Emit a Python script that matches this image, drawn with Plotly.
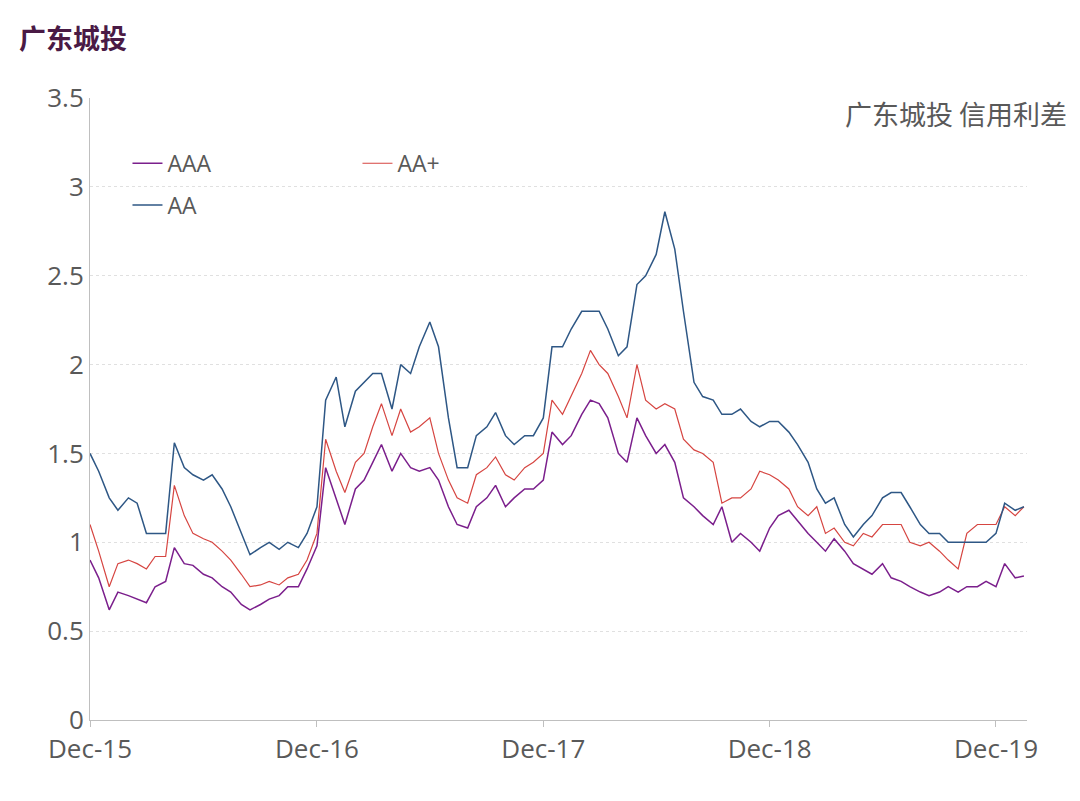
import pandas as pd
import plotly.graph_objects as go

# semi-monthly observations, 2015-12-01 .. 2020-01-15
dates = [d for m in pd.date_range("2015-12-01", "2020-01-01", freq="MS")
         for d in (m, m + pd.Timedelta(days=14))]

aaa = [0.9, 0.8,
       0.62, 0.72, 0.7, 0.68, 0.66, 0.75, 0.78, 0.97, 0.88, 0.87, 0.82, 0.8,
       0.75, 0.72, 0.65, 0.62, 0.65, 0.68, 0.7, 0.75, 0.75, 0.85, 0.98, 1.42,
       1.25, 1.1, 1.3, 1.35, 1.45, 1.55, 1.4, 1.5, 1.42, 1.4, 1.42, 1.35,
       1.2, 1.1, 1.08, 1.2, 1.25, 1.32, 1.2, 1.25, 1.3, 1.3, 1.35, 1.62,
       1.55, 1.6, 1.72, 1.8, 1.78, 1.7, 1.5, 1.45, 1.7, 1.6, 1.5, 1.55,
       1.45, 1.25, 1.2, 1.15, 1.1, 1.2, 1.0, 1.05, 1.0, 0.95, 1.08, 1.15,
       1.18, 1.12, 1.05, 1.0, 0.95, 1.02, 0.95, 0.88, 0.85, 0.82, 0.88, 0.8,
       0.78, 0.75, 0.72, 0.7, 0.72, 0.75, 0.72, 0.75, 0.75, 0.78, 0.75, 0.88,
       0.8, 0.81]

aa_plus = [1.1, 0.95,
           0.75, 0.88, 0.9, 0.88, 0.85, 0.92, 0.92, 1.32, 1.15, 1.05, 1.02, 1.0,
           0.95, 0.9, 0.82, 0.75, 0.76, 0.78, 0.76, 0.8, 0.82, 0.9, 1.05, 1.58,
           1.4, 1.28, 1.45, 1.5, 1.65, 1.78, 1.6, 1.75, 1.62, 1.65, 1.7, 1.5,
           1.35, 1.25, 1.22, 1.38, 1.42, 1.48, 1.38, 1.35, 1.42, 1.45, 1.5, 1.8,
           1.72, 1.82, 1.95, 2.08, 2.0, 1.95, 1.82, 1.7, 2.0, 1.8, 1.75, 1.78,
           1.75, 1.58, 1.52, 1.5, 1.45, 1.22, 1.25, 1.25, 1.3, 1.4, 1.38, 1.35,
           1.3, 1.2, 1.15, 1.2, 1.05, 1.08, 1.0, 0.98, 1.05, 1.03, 1.1, 1.1,
           1.1, 1.0, 0.98, 1.0, 0.95, 0.9, 0.85, 1.05, 1.1, 1.1, 1.1, 1.2,
           1.15, 1.2]

aa = [1.5, 1.4,
      1.25, 1.18, 1.25, 1.22, 1.05, 1.05, 1.05, 1.56, 1.42, 1.38, 1.35, 1.38,
      1.3, 1.2, 1.05, 0.93, 0.97, 1.0, 0.96, 1.0, 0.97, 1.05, 1.2, 1.8,
      1.93, 1.65, 1.85, 1.9, 1.95, 1.95, 1.75, 2.0, 1.95, 2.1, 2.24, 2.1,
      1.7, 1.42, 1.42, 1.6, 1.65, 1.73, 1.6, 1.55, 1.6, 1.6, 1.7, 2.1,
      2.1, 2.2, 2.3, 2.3, 2.3, 2.2, 2.05, 2.1, 2.45, 2.5, 2.62, 2.86,
      2.65, 2.3, 1.9, 1.82, 1.8, 1.72, 1.72, 1.75, 1.68, 1.65, 1.68, 1.68,
      1.62, 1.55, 1.45, 1.3, 1.22, 1.25, 1.1, 1.03, 1.1, 1.15, 1.25, 1.28,
      1.28, 1.2, 1.1, 1.05, 1.05, 1.0, 1.0, 1.0, 1.0, 1.0, 1.05, 1.22,
      1.18, 1.2]

tick_vals = ["2015-12-01", "2016-12-01", "2017-12-01", "2018-12-01", "2019-12-01"]
tick_text = ["Dec-15", "Dec-16", "Dec-17", "Dec-18", "Dec-19"]

fig = go.Figure()
fig.add_trace(go.Scatter(x=dates, y=aaa, name="AAA", mode="lines",
                         line=dict(color="#7b1f8c", width=1.5), legend="legend"))
fig.add_trace(go.Scatter(x=dates, y=aa_plus, name="AA+", mode="lines",
                         line=dict(color="#d64541", width=1.2), legend="legend"))
fig.add_trace(go.Scatter(x=dates, y=aa, name="AA", mode="lines",
                         line=dict(color="#2e5785", width=1.5), legend="legend2"))

gray = "#595959"
fig.update_layout(
    width=1080, height=801,
    margin=dict(l=82, r=61, t=90, b=89),
    paper_bgcolor="white", plot_bgcolor="white",
    font=dict(family="Noto Sans CJK SC", color=gray),
    legend=dict(orientation="h", x=0.04, y=0.895, yanchor="middle",
                entrywidth=185, font=dict(size=23, color=gray, family="Open Sans"),
                bgcolor="rgba(0,0,0,0)"),
    legend2=dict(orientation="h", x=0.04, y=0.828, yanchor="middle",
                 font=dict(size=23, color=gray, family="Open Sans"),
                 bgcolor="rgba(0,0,0,0)"),
    xaxis=dict(range=["2015-12-01", "2020-01-20"], tickvals=tick_vals,
               ticktext=tick_text, showgrid=False, showline=True,
               linecolor="#bfbfbf", ticks="outside", tickcolor="#bfbfbf",
               ticklen=6, tickfont=dict(size=26, color=gray, family="Open Sans")),
    yaxis=dict(range=[0, 3.5], dtick=0.5, showgrid=True, gridcolor="#e0e0e0",
               griddash="dot", showline=True, linecolor="#bfbfbf",
               zeroline=False, tickfont=dict(size=26, color=gray, family="Open Sans")),
    annotations=[
        dict(text="<b>广东城投</b>", xref="paper", yref="paper", x=-0.078, y=1.097,
             xanchor="left", yanchor="middle", showarrow=False,
             font=dict(size=27, color="#4a1a45")),
        dict(text="广东城投 信用利差", xref="paper", yref="paper", x=1.045, y=0.975,
             xanchor="right", yanchor="middle", showarrow=False,
             font=dict(size=27, color=gray)),
    ],
)

fig.write_html("out.html")
